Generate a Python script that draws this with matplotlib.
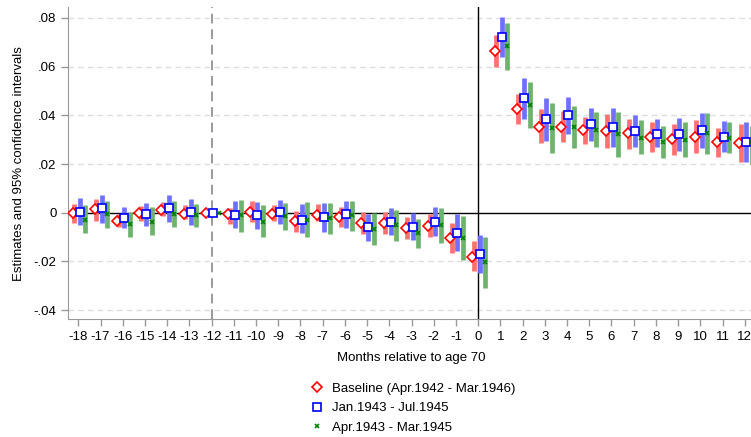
import numpy as np
import matplotlib
matplotlib.use("Agg")
from matplotlib import pyplot as plt

plt.rcParams['font.family'] = ['Liberation Sans', 'DejaVu Sans']

months = list(range(-18, 13))

# Baseline (Apr.1942 - Mar.1946)
base_est = [0.0, 0.0014, -0.0033, 0.0, 0.0012, -0.0003, 0.0, -0.0005, 0.0005, -0.0005,
            -0.0034, -0.0008, -0.0019, -0.0042, -0.0042, -0.0063, -0.0053, -0.0104, -0.018,
            0.0665, 0.0427, 0.0354, 0.0354, 0.0338, 0.0337, 0.0327, 0.0313, 0.0301, 0.0313, 0.0289, 0.0286]
base_hi = [0.0036, 0.0055, -0.0005, 0.0029, 0.0046, 0.0032, 0.0, 0.0018, 0.0049, 0.0032,
           0.0008, 0.0036, 0.0025, 0.0004, 0.0004, -0.0019, -0.0005, -0.004, -0.0115,
           0.0731, 0.0489, 0.0426, 0.0419, 0.0395, 0.0405, 0.0387, 0.0374, 0.0364, 0.0381, 0.035, 0.0364]
base_lo = [-0.004, -0.0033, -0.006, -0.0033, -0.0014, -0.0027, 0.0, -0.0046, -0.0036, -0.0033,
           -0.008, -0.0033, -0.006, -0.0088, -0.0088, -0.0108, -0.0101, -0.0167, -0.0239,
           0.060, 0.0366, 0.0285, 0.0289, 0.0282, 0.0266, 0.0262, 0.025, 0.0238, 0.0245, 0.0227, 0.0207]

# Jan.1943 - Jul.1945
jan_est = [0.0005, 0.002, -0.002, -0.0005, 0.0019, 0.0003, 0.0, -0.0008, -0.001, 0.0004,
           -0.0029, -0.0016, -0.0007, -0.006, -0.0036, -0.0058, -0.0036, -0.0081, -0.017,
           0.0722, 0.0471, 0.0385, 0.040, 0.0364, 0.0352, 0.0337, 0.0324, 0.0323, 0.034, 0.0312, 0.0289]
jan_hi = [0.006, 0.0074, 0.0022, 0.0042, 0.0074, 0.0056, 0.0, 0.0049, 0.0045, 0.0052,
          0.0034, 0.004, 0.0049, -0.0003, 0.0019, 0.0, 0.0025, -0.0005, -0.0092,
          0.0805, 0.0554, 0.0473, 0.0476, 0.0432, 0.043, 0.0401, 0.0386, 0.0389, 0.041, 0.0375, 0.0374]
jan_lo = [-0.005, -0.004, -0.0064, -0.0053, -0.0037, -0.005, 0.0, -0.0064, -0.0067, -0.0047,
          -0.0085, -0.0078, -0.0064, -0.0115, -0.0092, -0.0112, -0.0095, -0.0156, -0.0249,
          0.0638, 0.0387, 0.0296, 0.0323, 0.0296, 0.0271, 0.0271, 0.0271, 0.0252, 0.0268, 0.0248, 0.0207]

# Apr.1943 - Mar.1945
apr_est = [-0.003, -0.0007, -0.0047, -0.0036, -0.0003, -0.001, 0.0, -0.001, -0.0037, -0.0012,
           -0.0029, -0.0023, -0.0011, -0.0067, -0.0051, -0.0085, -0.0051, -0.0104, -0.0202,
           0.0683, 0.0442, 0.0348, 0.0354, 0.0341, 0.0323, 0.0309, 0.029, 0.0299, 0.0326, 0.0308, 0.029]
apr_hi = [0.003, 0.005, 0.0005, 0.0022, 0.0049, 0.0038, 0.0, 0.0053, 0.0032, 0.004,
          0.0045, 0.0042, 0.0049, 0.0001, 0.0011, -0.0026, 0.0019, -0.0015, -0.0099,
          0.0779, 0.0538, 0.045, 0.0439, 0.0412, 0.0415, 0.0381, 0.0357, 0.0371, 0.0408, 0.0372, 0.0357]
apr_lo = [-0.0083, -0.0063, -0.0099, -0.0092, -0.0058, -0.006, 0.0, -0.0078, -0.0101, -0.0071,
          -0.0101, -0.0087, -0.0074, -0.0132, -0.0115, -0.0145, -0.0124, -0.0195, -0.0307,
          0.0586, 0.0348, 0.0244, 0.0268, 0.0271, 0.023, 0.0241, 0.0223, 0.0227, 0.0241, 0.0244, 0.020]

series = [
    ("Baseline (Apr.1942 - Mar.1946)", base_est, base_lo, base_hi,
     -0.19, -0.26, "#ff7070", dict(marker="D", ms=4.8, mfc="white", mec="red", mew=1.2)),
    ("Jan.1943 - Jul.1945", jan_est, jan_lo, jan_hi,
     0.06, 0.06, "#7070ff", dict(marker="s", ms=5.2, mfc="white", mec="blue", mew=1.2)),
    ("Apr.1943 - Mar.1945", apr_est, apr_lo, apr_hi,
     0.31, 0.31, "#6db36d", dict(marker="x", ms=3.2, mec="green", mew=1.2)),
]

fig = plt.figure(figsize=(7.51, 4.37), dpi=100)
ax = fig.add_axes([0.091, 0.269, 0.914, 0.715])

x = np.array(months)
ax.axhline(0, color="black", lw=1.0, zorder=1)
ax.axvline(0, color="black", lw=1.0, zorder=1)
ax.axvline(-12, color="#9a9a9a", lw=1.4, ls=(0, (5, 3)), zorder=1)
for yv in [-0.04, -0.02, 0.02, 0.04, 0.06, 0.08]:
    ax.axhline(yv, color="#dddddd", lw=1.0, ls=(0, (4, 3)), zorder=0)

handles = []
for label, est, lo, hi, boff, moff, bcol, mk in series:
    ax.vlines(x + boff, lo, hi, color=bcol, lw=3.4, zorder=2)
    h, = ax.plot(x + moff, est, ls="none", zorder=3, **mk)
    handles.append(h)

ax.set_xlim(-18.45, 12.45)
ax.set_ylim(-0.0438, 0.0845)
ax.set_xticks(months)
ax.set_xticklabels([str(m) for m in months], fontsize=9.5)
yt = [-0.04, -0.02, 0, 0.02, 0.04, 0.06, 0.08]
ax.set_yticks(yt)
ax.set_yticklabels(["-.04", "-.02", "0", ".02", ".04", ".06", ".08"], fontsize=9.5)
ax.tick_params(axis="both", color="#999999", length=5, width=1)
for s in ["top", "right"]:
    ax.spines[s].set_visible(False)
for s in ["left", "bottom"]:
    ax.spines[s].set_color("#999999")
ax.set_xlabel("Months relative to age 70", fontsize=9.5, labelpad=6)
ax.set_ylabel("Estimates and 95% confidence intervals", fontsize=9.5, labelpad=6)

fig.legend(handles, [s[0] for s in series], loc="upper left",
           bbox_to_anchor=(0.405, 0.14), frameon=False, fontsize=9.5,
           handlelength=1.0, handletextpad=0.6, labelspacing=0.55, borderpad=0)

fig.savefig("out.png", dpi=100)
